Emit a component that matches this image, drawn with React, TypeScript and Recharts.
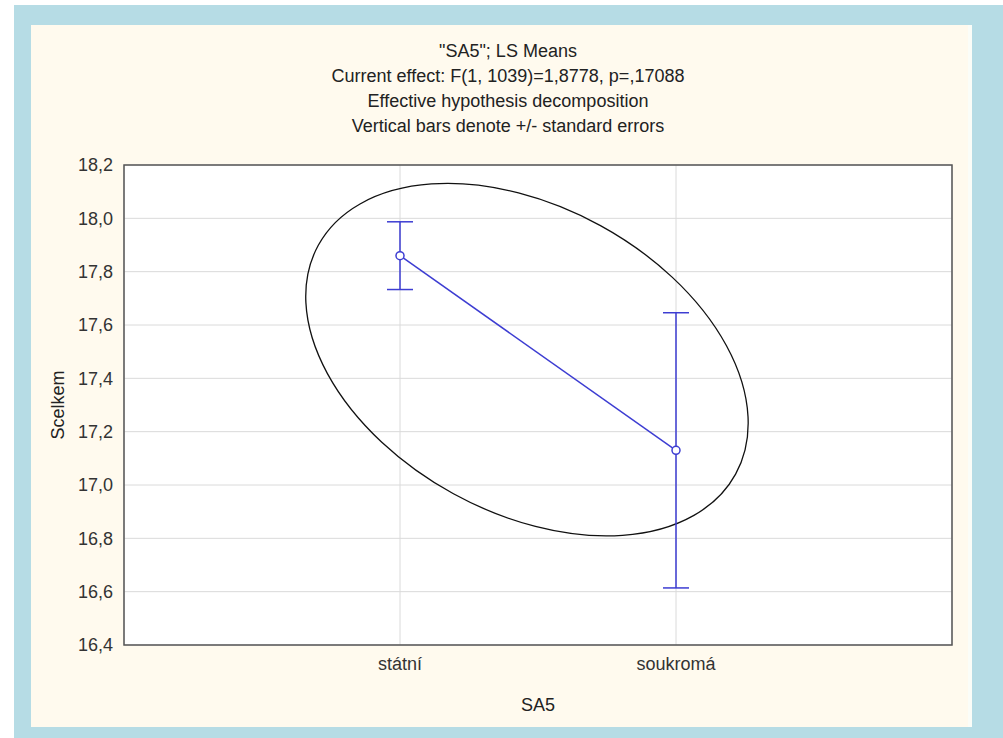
import React from 'react';
import * as R from 'recharts';

const { ComposedChart, Line, XAxis, YAxis, CartesianGrid, ErrorBar, ReferenceArea, Customized } = R;

// LS means of Scelkem by SA5, with standard errors
const categories = ['státní', 'soukromá'];
const means = [17.86, 17.13];
const stdErrors = [0.127, 0.516];
const yTicks = [16.4, 16.6, 16.8, 17.0, 17.2, 17.4, 17.6, 17.8, 18.0, 18.2];
const titleLines = [
  '"SA5"; LS Means',
  'Current effect: F(1, 1039)=1,8778, p=,17088',
  'Effective hypothesis decomposition',
  'Vertical bars denote +/- standard errors',
];

// confidence ellipse: centre and ends of its two semi-axes, in data units
const ellipseCenter = [1.46, 17.47];
const ellipseMajorEnd = [2.216, 17.041];
const ellipseMinorEnd = [1.726, 17.973];

const X_DOMAIN: [number, number] = [0, 3];
const Y_DOMAIN: [number, number] = [16.4, 18.2];

const data = categories.map((c, i) => ({ x: i + 1, name: c, mean: means[i], se: stdErrors[i] }));

const BLUE = '#3d3dd2';
const FONT = '"Liberation Sans", Arial, sans-serif';

const fmt = (v: number) => v.toFixed(1).replace('.', ',');

const anyR = R as any;
function usePlot() {
  if (anyR.usePlotArea) {
    const a = anyR.usePlotArea();
    if (a) return a;
  }
  return { x: 93, y: 140, width: 828, height: 480 };
}

function ConfidenceEllipse() {
  const area = usePlot();
  const px = (v: number) => area.x + ((v - X_DOMAIN[0]) / (X_DOMAIN[1] - X_DOMAIN[0])) * area.width;
  const py = (v: number) => area.y + ((Y_DOMAIN[1] - v) / (Y_DOMAIN[1] - Y_DOMAIN[0])) * area.height;
  const cx = px(ellipseCenter[0]);
  const cy = py(ellipseCenter[1]);
  const mx = px(ellipseMajorEnd[0]) - cx;
  const my = py(ellipseMajorEnd[1]) - cy;
  const nx = px(ellipseMinorEnd[0]) - cx;
  const ny = py(ellipseMinorEnd[1]) - cy;
  const rx = Math.hypot(mx, my);
  const ry = Math.hypot(nx, ny);
  const angle = (Math.atan2(my, mx) * 180) / Math.PI;
  return (
    <ellipse
      cx={cx}
      cy={cy}
      rx={rx}
      ry={ry}
      transform={`rotate(${angle} ${cx} ${cy})`}
      fill="none"
      stroke="#111"
      strokeWidth={1.3}
    />
  );
}

export default function App() {
  return (
    <div style={{ position: 'absolute', left: 0, top: 0, width: 1003, height: 738, background: '#fff', fontFamily: FONT }}>
      <div style={{ position: 'absolute', left: 14, top: 5, width: 989, height: 733, background: '#b6dce5' }} />
      <div
        style={{
          position: 'absolute',
          left: 31,
          top: 25,
          width: 937,
          height: 702,
          background: '#fffaee',
          borderRight: '4px solid #fbfdf8',
        }}
      />
      {titleLines.map((t, i) => (
        <div
          key={i}
          style={{
            position: 'absolute',
            left: 208,
            width: 600,
            top: 38.5 + i * 25,
            lineHeight: '25px',
            textAlign: 'center',
            fontSize: 18,
            color: '#222',
          }}
        >
          {t}
        </div>
      ))}
      <div style={{ position: 'absolute', left: 31, top: 25 }}>
        <ComposedChart width={939} height={702} data={data} margin={{ top: 140, right: 18, bottom: 52, left: 33 }}>
          <CartesianGrid stroke="#dadada" fill="#ffffff" />
          <XAxis
            type="number"
            dataKey="x"
            domain={X_DOMAIN}
            ticks={[1, 2]}
            tickFormatter={(v: number) => categories[v - 1] ?? ''}
            height={30}
            axisLine={false}
            tickLine={false}
            tickSize={6}
            tickMargin={6}
            tick={{ fontSize: 18, fill: '#333', fontFamily: FONT }}
          />
          <YAxis
            type="number"
            domain={Y_DOMAIN}
            ticks={yTicks}
            tickFormatter={fmt}
            width={60}
            axisLine={false}
            tickLine={false}
            tickSize={6}
            tickMargin={5}
            tick={{ fontSize: 18, fill: '#333', fontFamily: FONT }}
          />
          <ReferenceArea
            x1={X_DOMAIN[0]}
            x2={X_DOMAIN[1]}
            y1={Y_DOMAIN[0]}
            y2={Y_DOMAIN[1]}
            fill="none"
            stroke="#555"
            strokeWidth={1.5}
          />
          <Customized component={<ConfidenceEllipse />} />
          <Line
            dataKey="mean"
            stroke={BLUE}
            strokeWidth={1.5}
            dot={{ r: 4, stroke: BLUE, strokeWidth: 1.5, fill: '#fff' }}
            isAnimationActive={false}
          >
            <ErrorBar dataKey="se" direction="y" width={13} stroke={BLUE} strokeWidth={1.5} isAnimationActive={false} />
          </Line>
        </ComposedChart>
      </div>
      <div
        style={{
          position: 'absolute',
          left: 58,
          top: 405,
          transform: 'translate(-50%, -50%) rotate(-90deg)',
          fontSize: 18,
          color: '#222',
          whiteSpace: 'nowrap',
        }}
      >
        Scelkem
      </div>
      <div
        style={{
          position: 'absolute',
          left: 538,
          top: 705,
          transform: 'translate(-50%, -50%)',
          fontSize: 18,
          color: '#222',
          whiteSpace: 'nowrap',
        }}
      >
        SA5
      </div>
    </div>
  );
}
